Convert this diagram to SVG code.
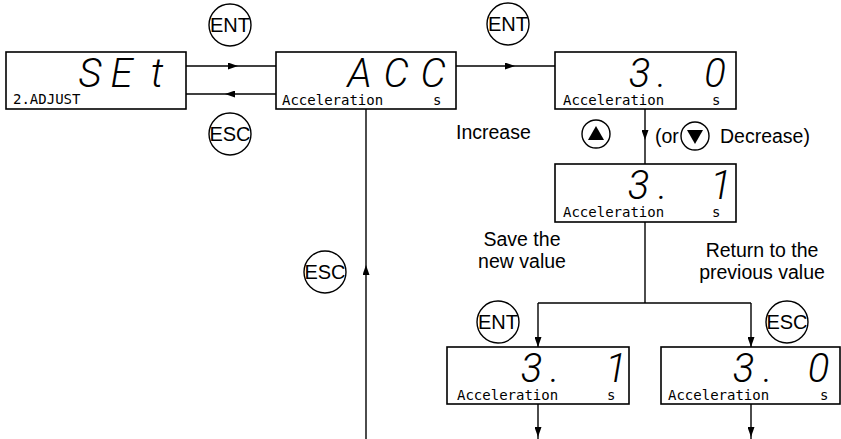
<svg xmlns="http://www.w3.org/2000/svg" width="841" height="439" viewBox="0 0 841 439">
<style>
.box{fill:#fff;stroke:#000;stroke-width:1.6}
.ln{fill:none;stroke:#000;stroke-width:1.4}
.btn{fill:#fff;stroke:#000;stroke-width:1.4}
.btnt{font-family:"Liberation Sans",Arial,sans-serif;font-size:20px;text-anchor:middle;fill:#000}
.lbl{font-family:"Liberation Sans",Arial,sans-serif;font-size:19.5px;fill:#000}
.seg{font-family:Roboto,"Liberation Sans",sans-serif;font-style:italic;font-weight:300;font-size:40px;text-anchor:middle;fill:#000}
.sm{font-family:"DejaVu Sans Mono","Liberation Mono",monospace;font-size:14px;fill:#000}
</style>
<defs>
<marker id="ar" viewBox="0 0 10 7" refX="10" refY="3.5" markerWidth="10" markerHeight="7" markerUnits="userSpaceOnUse" orient="auto">
<path d="M0,0 L10,3.5 L0,7 z" fill="#000"/>
</marker>
</defs>
<rect width="841" height="439" fill="#fff"/>

<g id="connectors">
<path class="ln" d="M186,66 L238,66 L276,66" marker-mid="url(#ar)"/>
<path class="ln" d="M276,94 L225,94 L186,94" marker-mid="url(#ar)"/>
<path class="ln" d="M456,66 L515,66 L555,66" marker-mid="url(#ar)"/>
<path class="ln" d="M366,439 L366,265 L366,109" marker-mid="url(#ar)"/>
<path class="ln" d="M645,109 L645,140 L645,164" marker-mid="url(#ar)"/>
<path class="ln" d="M645,222 L645,303"/>
<path class="ln" d="M538,303 L751,303"/>
<path class="ln" d="M538,303 L538,347" marker-end="url(#ar)"/>
<path class="ln" d="M751,303 L751,347" marker-end="url(#ar)"/>
<path class="ln" d="M538,404 L538,437 L538,439" marker-mid="url(#ar)"/>
<path class="ln" d="M751,404 L751,437 L751,439" marker-mid="url(#ar)"/>
</g>

<g id="set">
<rect class="box" x="6" y="52" width="180" height="57"/>
<text class="seg" x="90 121.5 157" y="87">SEt</text>
<text class="sm" x="13" y="104">2.ADJUST</text>
</g>

<g id="acc">
<rect class="box" x="276" y="52" width="180" height="57"/>
<text class="seg" x="359.5 396 433" y="87">ACC</text>
<text class="sm" x="282" y="105">Acceleration</text>
<text class="sm" x="433" y="105">s</text>
</g>

<g id="val30">
<rect class="box" x="555" y="52" width="181" height="57"/>
<text class="seg" x="639.5 662 680 715" y="87">3. 0</text>
<text class="sm" x="563" y="105">Acceleration</text>
<text class="sm" x="712" y="105">s</text>
</g>

<g id="val31">
<rect class="box" x="555" y="164" width="181" height="58"/>
<text class="seg" x="638.5 663 690 721" y="199">3. 1</text>
<text class="sm" x="563" y="217">Acceleration</text>
<text class="sm" x="712" y="217">s</text>
</g>

<g id="saved">
<rect class="box" x="447" y="347" width="182" height="57"/>
<text class="seg" x="531.5 555 580 616" y="382">3. 1</text>
<text class="sm" x="457" y="400">Acceleration</text>
<text class="sm" x="607" y="400">s</text>
</g>

<g id="restored">
<rect class="box" x="661" y="347" width="179" height="57"/>
<text class="seg" x="743.5 768 790 818.5" y="382">3. 0</text>
<text class="sm" x="668" y="400">Acceleration</text>
<text class="sm" x="820" y="400">s</text>
</g>

<g id="btn-ent1"><circle class="btn" cx="230" cy="25" r="21"/><text class="btnt" x="230" y="32">ENT</text></g>
<g id="btn-esc1"><circle class="btn" cx="230" cy="134" r="21"/><text class="btnt" x="230" y="141">ESC</text></g>
<g id="btn-ent2"><circle class="btn" cx="508" cy="24" r="21"/><text class="btnt" x="508" y="31">ENT</text></g>
<g id="btn-esc2"><circle class="btn" cx="325" cy="272" r="21"/><text class="btnt" x="325" y="279">ESC</text></g>
<g id="btn-ent3"><circle class="btn" cx="498" cy="322" r="21"/><text class="btnt" x="498" y="329">ENT</text></g>
<g id="btn-esc3"><circle class="btn" cx="787" cy="322" r="21"/><text class="btnt" x="787" y="329">ESC</text></g>

<g id="btn-up"><circle class="btn" cx="596" cy="134" r="14"/><path d="M588,140 L604,140 L596,126 z" fill="#000"/></g>
<g id="btn-down"><circle class="btn" cx="695" cy="136" r="14"/><path d="M687,130 L703,130 L695,144 z" fill="#000"/></g>

<g id="labels">
<text class="lbl" x="456" y="139">Increase</text>
<text class="lbl" x="655" y="143">(or</text>
<text class="lbl" x="720" y="143">Decrease)</text>
<text class="lbl" x="522" y="246" text-anchor="middle">Save the</text>
<text class="lbl" x="522" y="268" text-anchor="middle">new value</text>
<text class="lbl" x="762" y="257" text-anchor="middle">Return to the</text>
<text class="lbl" x="762" y="279" text-anchor="middle">previous value</text>
</g>
</svg>
